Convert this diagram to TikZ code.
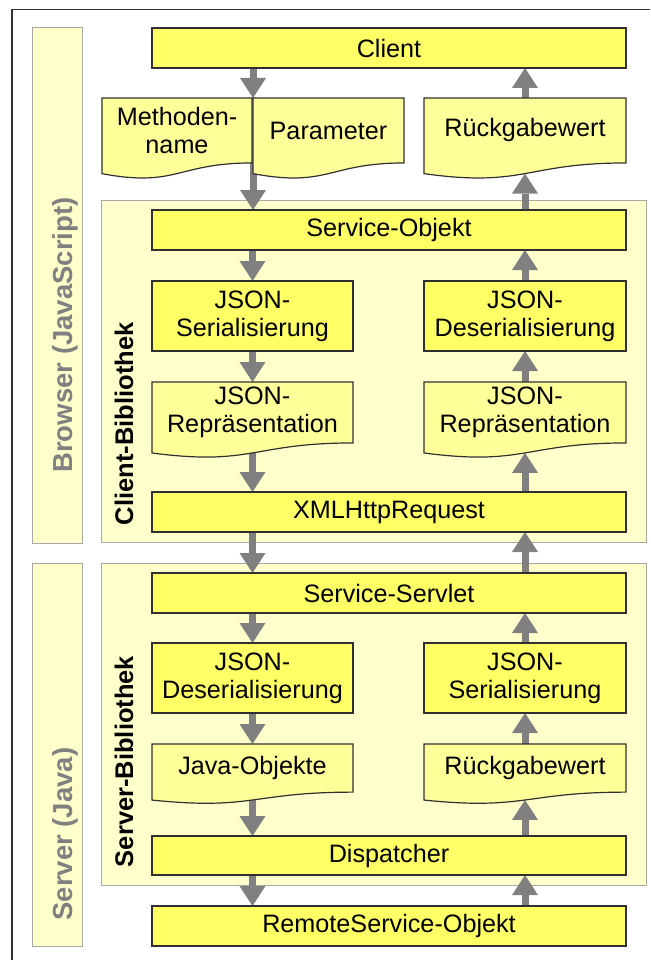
\documentclass[tikz,border=0pt]{standalone}
\usepackage{fontspec}
\setmainfont{Liberation Sans}
\usetikzlibrary{arrows.meta,calc}

\definecolor{procfill}{HTML}{FFFF66}
\definecolor{docfill}{HTML}{FFFF99}
\definecolor{areafill}{HTML}{FFFFCC}
\definecolor{arealine}{HTML}{A8A8A8}
\definecolor{boxline}{HTML}{303030}
\definecolor{flowgray}{HTML}{808080}
\definecolor{lanetext}{HTML}{808080}

\pgfdeclarelayer{bg}
\pgfdeclarelayer{arrowlayer}
\pgfdeclarelayer{docs}
\pgfsetlayers{bg,arrowlayer,docs,main}

% document shape: text node plus a wavy-bottomed outline behind it
% #1 name, #2 left, #3 top, #4 width, #5 full height, #6 text
\newcommand{\flowdoc}[6]{%
  \pgfmathsetmacro{\docH}{0.802*#5}%
  \pgfmathsetmacro{\docA}{0.306*#5}%
  \pgfmathsetmacro{\docB}{0.132*#5}%
  \pgfmathsetmacro{\docC}{0.131*#5}%
  \node[docnode, minimum width=#4pt, minimum height=\docH pt] (#1) at (#2,#3) {#6};
  \begin{pgfonlayer}{docs}
    \draw[docshape] (#1.north west) -- (#1.north east) -- (#1.south east)
      .. controls (#1.south) and ($(#1.south)+(0,\docA)$) .. ($(#1.south west)+(0,\docB)$) -- cycle;
  \end{pgfonlayer}
  \coordinate (#1-w) at ($(#1.south)+(0,\docC)$);
}

\begin{document}
\begin{tikzpicture}[x=1pt,y=-1pt,
  every node/.style={font=\fontsize{25.2}{28}\selectfont, inner sep=0pt, outer sep=0pt},
  procbox/.style={draw=boxline, line width=1.2pt, fill=procfill, anchor=north west, align=center},
  docnode/.style={anchor=north west, align=center},
  docshape/.style={draw=boxline, line width=1.2pt, fill=docfill},
  flowarrow/.style={draw=flowgray, line width=7pt, -{Triangle[width=26pt,length=20pt,line width=0pt]}},
  area/.style={draw=arealine, line width=1pt, fill=areafill},
  lanelabel/.style={rotate=90, anchor=base, text=lanetext, font=\fontsize{27.5}{30}\selectfont\bfseries},
  liblabel/.style={rotate=90, anchor=base west, font=\fontsize{25.5}{28}\selectfont\bfseries},
  frameline/.style={draw=boxline, line width=1.2pt}]

\useasboundingbox (0,0) rectangle (650,960);

% frame, lanes and library areas
\begin{pgfonlayer}{bg}
  \draw[frameline] (12,960) -- (12,9.5) -- (650,9.5);
  \draw[area] (32,28) rectangle (82,543);
  \draw[area] (32,563) rectangle (82,946);
  \draw[area] (101,200) rectangle (646,542);
  \draw[area] (101,563) rectangle (646,885);
\end{pgfonlayer}

\node[lanelabel] (laneBrowser) at (72,335) {Browser (JavaScript)};
\node[lanelabel] (laneServer) at (72,834) {Server (Java)};
\node[liblabel] (libClient) at (133,525) {Client-Bibliothek};
\node[liblabel] (libServer) at (133,867) {Server-Bibliothek};

% browser side
\node[procbox, minimum width=474pt, minimum height=40pt] (client) at (152,28) {Client};
\flowdoc{meth}{102}{98}{150}{81}{Methoden-\\name}
\flowdoc{param}{253}{98}{151}{81}{Parameter}
\flowdoc{rueckC}{424}{98}{202}{81}{Rückgabewert}
\node[procbox, minimum width=474pt, minimum height=40pt] (sobj) at (152,210) {Service-Objekt};
\node[procbox, minimum width=201pt, minimum height=70pt] (jser) at (152,281) {JSON-\\Serialisierung};
\node[procbox, minimum width=202pt, minimum height=70pt] (jdesC) at (424,281) {JSON-\\Deserialisierung};
\flowdoc{jrepL}{152}{382}{201}{76}{JSON-\\Repräsentation}
\flowdoc{jrepR}{424}{382}{202}{76}{JSON-\\Repräsentation}
\node[procbox, minimum width=474pt, minimum height=40pt] (xhr) at (152,492) {XMLHttpRequest};

% server side
\node[procbox, minimum width=474pt, minimum height=40pt] (servlet) at (152,573) {Service-Servlet};
\node[procbox, minimum width=201pt, minimum height=70pt] (jdesS) at (152,643) {JSON-\\Deserialisierung};
\node[procbox, minimum width=202pt, minimum height=70pt] (jserS) at (424,643) {JSON-\\Serialisierung};
\flowdoc{javaobj}{152}{744}{201}{60}{Java-Objekte}
\flowdoc{rueckS}{424}{744}{202}{60}{Rückgabewert}
\node[procbox, minimum width=474pt, minimum height=39pt] (disp) at (152,836) {Dispatcher};
\node[procbox, minimum width=474pt, minimum height=40pt] (remote) at (152,906) {RemoteService-Objekt};

% request path (down) and response path (up)
\begin{pgfonlayer}{arrowlayer}
  \draw[flowarrow] (client.south -| param.north west) -- (param.north west);
  \draw[flowarrow] (param.south west) -- (sobj.north -| param.north west);
  \draw[flowarrow] (sobj.south -| jser) -- (jser.north);
  \draw[flowarrow] (jser.south) -- (jrepL.north);
  \draw[flowarrow] (jrepL.south) -- (xhr.north -| jrepL.south);
  \draw[flowarrow] (xhr.south -| jser) -- (servlet.north -| jser);
  \draw[flowarrow] (servlet.south -| jdesS) -- (jdesS.north);
  \draw[flowarrow] (jdesS.south) -- (javaobj.north);
  \draw[flowarrow] (javaobj.south) -- (disp.north -| javaobj.south);
  \draw[flowarrow] (disp.south -| javaobj) -- (remote.north -| javaobj);

  \draw[flowarrow] (remote.north -| rueckS) -- (disp.south -| rueckS);
  \draw[flowarrow] (disp.north -| rueckS) -- (rueckS-w);
  \draw[flowarrow] (rueckS.north) -- (jserS.south);
  \draw[flowarrow] (jserS.north) -- (servlet.south -| jserS);
  \draw[flowarrow] (servlet.north -| jserS) -- (xhr.south -| jserS);
  \draw[flowarrow] (xhr.north -| jrepR) -- (jrepR-w);
  \draw[flowarrow] (jrepR.north) -- (jdesC.south);
  \draw[flowarrow] (jdesC.north) -- (sobj.south -| jdesC);
  \draw[flowarrow] (sobj.north -| rueckC) -- (rueckC-w);
  \draw[flowarrow] (rueckC.north) -- (client.south -| rueckC);
\end{pgfonlayer}

\end{tikzpicture}
\end{document}
